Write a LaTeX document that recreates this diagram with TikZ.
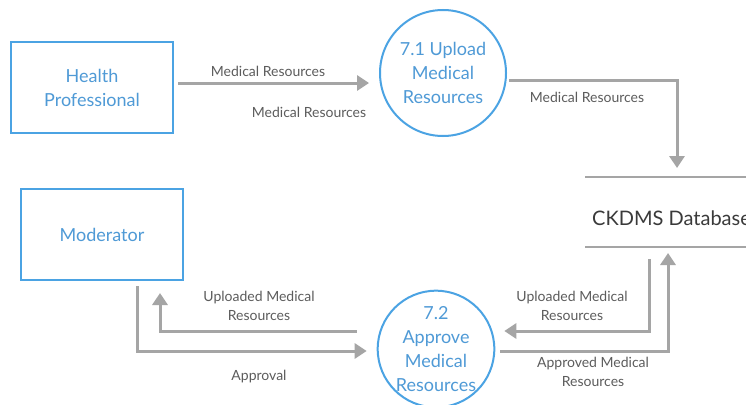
\documentclass[tikz,border=0pt]{standalone}
\usepackage{fontspec}
\setmainfont{Lato}
\usetikzlibrary{arrows.meta}
\definecolor{bordblue}{HTML}{4BA3E3}
\definecolor{textblue}{HTML}{4F9AD6}
\definecolor{arrgray}{HTML}{A5A5A5}
\definecolor{labgray}{HTML}{5C5C5C}
\definecolor{dbgray}{HTML}{3A3A3A}
\tikzset{
  ent/.style={draw=bordblue, line width=2pt, minimum width=162pt, minimum height=91pt, inner sep=0pt,
    text=textblue, font=\fontsize{18}{24}\selectfont, align=center},
  proc/.style={circle, draw=bordblue, line width=2pt, inner sep=0pt,
    text=textblue, font=\fontsize{18}{24}\selectfont, align=center},
  arr/.style={draw=arrgray, line width=3pt, -{Triangle[length=12pt,width=15pt]}},
  lab/.style={text=labgray, font=\fontsize{14}{19}\selectfont, align=center, inner sep=0pt},
  dbline/.style={draw=arrgray, line width=1.5pt},
}
\begin{document}
\begin{tikzpicture}[x=1pt,y=-1pt]
\useasboundingbox (0,0) rectangle (746,404);
\clip (0,0) rectangle (746,404);
\fill[white] (0,0) rectangle (746,404);

\node[ent] (hp) at (92,87.5) {Health\\Professional};
\node[ent] (mod) at (102,234.5) {Moderator};
\node[proc, minimum size=126pt] (p1) at (443,73) {7.1 Upload\\Medical\\Resources};
\node[proc, minimum size=112pt] (p2) at (436,349) {7.2\\Approve\\Medical\\Resources};
\node[anchor=north west, minimum width=200pt, minimum height=70pt, inner sep=0pt, outer sep=0pt] (db) at (585,177) {};
\node[anchor=west, inner sep=0pt, text=dbgray, font=\fontsize{20}{24}\selectfont] (dbt) at (592,218) {CKDMS Database};
\draw[dbline] (db.north west) -- (db.north east);
\draw[dbline] (db.south west) -- (db.south east);

\draw[arr] ([shift={(4,-4.5)}]hp.east) -- ([shift={(-10,10)}]p1.west);
\draw[arr] ([shift={(2,7)}]p1.east) -| ([shift={(92,-9)}]db.north west);
\draw[arr] ([shift={(64,12)}]db.south west) |- ([shift={(9,-18)}]p2.east);
\draw[arr] ([shift={(5,2)}]p2.east) -| ([shift={(83,6)}]db.south west);
\draw[arr] ([shift={(35,5)}]mod.south) |- ([shift={(-10,2)}]p2.west);
\draw[arr] ([shift={(-20,-18)}]p2.west) -| ([shift={(58,12)}]mod.south);

\node[lab] (l1) at (268,71) {Medical Resources};
\node[lab] (l2) at (309,112) {Medical Resources};
\node[lab] (l3) at (587,97) {Medical Resources};
\node[lab] (l4) at (259,306) {Uploaded Medical\\Resources};
\node[lab] (l5) at (259,377) {Approval};
\node[lab] (l6) at (572,306) {Uploaded Medical\\Resources};
\node[lab] (l7) at (593,372) {Approved Medical\\Resources};
\end{tikzpicture}
\end{document}
